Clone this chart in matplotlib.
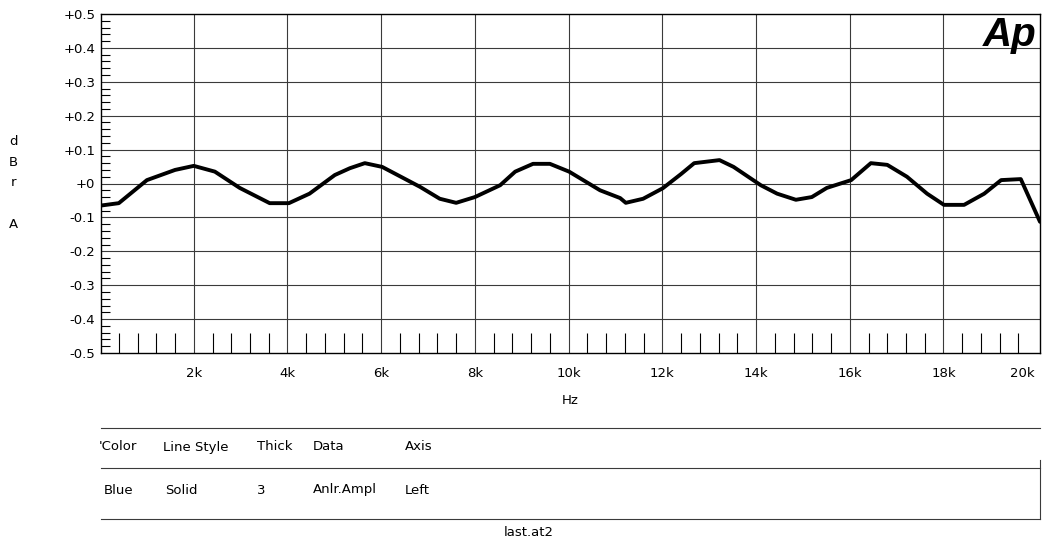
import matplotlib.pyplot as plt
import matplotlib.transforms as mtransforms
from matplotlib.ticker import MultipleLocator

plt.rcParams["font.family"] = ["DejaVu Sans"]

# 扫频数据（Hz, dBr A）
FREQ_HZ = [20, 400, 1000, 1600, 2000, 2450, 2980, 3620, 4030, 4470, 5010, 5330,
           5650, 6020, 6830, 7250, 7600, 8000, 8540, 8860, 9240, 9600, 10010,
           10670, 11100, 11220, 11590, 12010, 12400, 12680, 13220, 13520, 14100,
           14450, 14850, 15190, 15510, 16030, 16450, 16800, 17220, 17650, 18010,
           18440, 18870, 19230, 19650, 20060]
LEVEL_DBR = [-0.065, -0.058, 0.01, 0.04, 0.052, 0.035, -0.013, -0.058, -0.058,
             -0.03, 0.025, 0.045, 0.06, 0.049, -0.01, -0.045, -0.057, -0.04,
             -0.005, 0.035, 0.058, 0.058, 0.035, -0.02, -0.043, -0.057, -0.045,
             -0.014, 0.028, 0.06, 0.069, 0.049, -0.005, -0.03, -0.048, -0.04,
             -0.013, 0.01, 0.06, 0.055, 0.02, -0.03, -0.063, -0.063, -0.03,
             0.01, 0.013, -0.113]

X_TICKS = [2000, 4000, 6000, 8000, 10000, 12000, 14000, 16000, 18000, 20000]
X_TICK_LABELS = ["2k", "4k", "6k", "8k", "10k", "12k", "14k", "16k", "18k", "20k"]
Y_TICKS = [0.5, 0.4, 0.3, 0.2, 0.1, 0.0, -0.1, -0.2, -0.3, -0.4, -0.5]
Y_TICK_LABELS = ["+0.5", "+0.4", "+0.3", "+0.2", "+0.1", "+0", "-0.1", "-0.2",
                 "-0.3", "-0.4", "-0.5"]

LEGEND_HEADER = ["'Color", "Line Style", "Thick", "Data", "Axis"]
LEGEND_ROW = ["Blue", "Solid", "3", "Anlr.Ampl", "Left"]

FS = 9.5
GRID_COLOR = "#3a3a3a"

W, H = 1044, 544
fig = plt.figure(figsize=(W / 100, H / 100), dpi=100)
ax = fig.add_axes([101 / W, 1 - 353 / H, (1040 - 101) / W, (353 - 14) / H])

ax.set_xlim(20, 20060)
ax.set_ylim(-0.5, 0.5)

# 网格
for y in Y_TICKS[1:-1]:
    ax.axhline(y, color=GRID_COLOR, lw=0.8, zorder=1)
for x in X_TICKS[:-1]:
    ax.axvline(x, color=GRID_COLOR, lw=0.8, zorder=1)

ax.plot(FREQ_HZ, LEVEL_DBR, color="black", lw=2.8, solid_joinstyle="round",
        solid_capstyle="round", zorder=3)

ax.set_xticks(X_TICKS)
ax.set_xticklabels(X_TICK_LABELS)
ax.set_yticks(Y_TICKS)
ax.set_yticklabels(Y_TICK_LABELS)
ax.xaxis.set_minor_locator(MultipleLocator(400))
ax.yaxis.set_minor_locator(MultipleLocator(0.02))
ax.tick_params(which="major", length=0, labelsize=FS, pad=4)
ax.tick_params(axis="x", which="major", pad=10)
ax.tick_params(axis="x", which="minor", direction="in", length=14.5, width=0.8)
ax.tick_params(axis="y", which="minor", direction="in", length=6.5, width=0.8)
for s in ax.spines.values():
    s.set_linewidth(1.0)

# 20k 标签左移，避免被裁切
last = ax.get_xticklabels()[-1]
last.set_transform(last.get_transform() +
                   mtransforms.ScaledTranslation(-15 / 100, 0, fig.dpi_scale_trans))

ax.text(1037 / W, 1 - 16 / H, "Ap", transform=fig.transFigure, ha="right", va="top",
        fontsize=29, fontweight="bold", style="italic",
        family="Liberation Sans", zorder=4)

ax.set_xlabel("Hz", fontsize=FS, labelpad=10)
for letter, yp in zip(["d", "B", "r", "A"], [141, 162, 183, 225]):
    fig.text(13 / W, 1 - yp / H, letter, ha="center", va="center", fontsize=FS)

# 图例表格
for yp in [428, 468, 519]:
    fig.add_artist(plt.Line2D([101 / W, 1040 / W], [1 - yp / H, 1 - yp / H],
                              color=GRID_COLOR, lw=0.8))
fig.add_artist(plt.Line2D([1040 / W, 1040 / W], [1 - 460 / H, 1 - 519 / H],
                          color=GRID_COLOR, lw=0.8))
col_x = [99, 163, 257, 313, 405]
val_x = [104, 165, 257, 313, 405]
for hx, vx, head, val in zip(col_x, val_x, LEGEND_HEADER, LEGEND_ROW):
    fig.text(hx / W, 1 - 447 / H, head, ha="left", va="center", fontsize=FS)
    fig.text(vx / W, 1 - 490 / H, val, ha="left", va="center", fontsize=FS)
fig.text(529 / W, 1 - 532 / H, "last.at2", ha="center", va="center", fontsize=FS)

fig.savefig("out.png", dpi=100)
